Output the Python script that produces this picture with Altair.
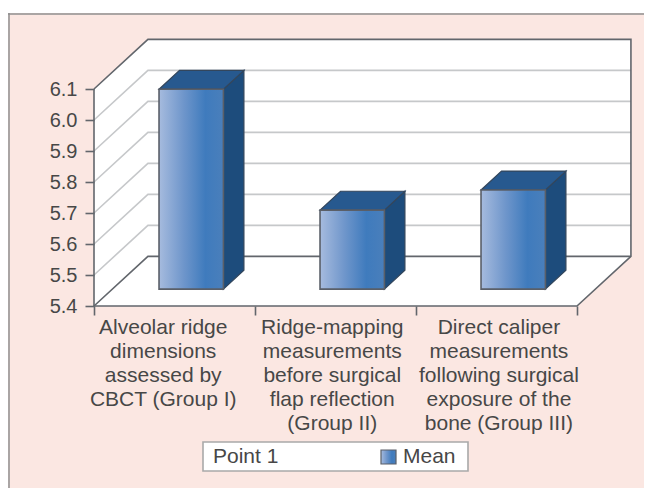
import altair as alt
import pandas as pd

# ---- values ----
categories = [
    "Alveolar ridge\ndimensions\nassessed by\nCBCT (Group I)",
    "Ridge-mapping\nmeasurements\nbefore surgical\nflap reflection\n(Group II)",
    "Direct caliper\nmeasurements\nfollowing surgical\nexposure of the\nbone (Group III)",
]
label_centres = [0.43, 1.48, 2.515]
means = [6.045, 5.655, 5.72]
y_ticks = [5.4, 5.5, 5.6, 5.7, 5.8, 5.9, 6.0, 6.1]
legend_left = "Point 1"
legend_right = "Mean"

# ---- oblique projection of the 3-D box (data units) ----
DX, DY = 0.335, 0.16          # full-depth shift in x (category) and y (value) units
YMIN, YMAX = 5.4, 6.1
N = len(categories)
GAP, BAR = 0.3, 0.4           # within one category
D0, D1 = 0.34, 0.72           # bar's depth range (fraction of the floor)


def shift(x, v, d):
    return x + DX * d, v + DY * d


box = pd.DataFrame({
    "x": [0, DX, N, N + DX],
    "lo": [YMIN, YMIN, YMIN, YMIN + DY],
    "hi": [YMAX, YMAX + DY, YMAX + DY, YMAX + DY],
})

grid_rows = []
for v in y_ticks[1:-1]:
    for x, y in [(0, v), (DX, v + DY), (N + DX, v + DY)]:
        grid_rows.append({"x": x, "y": y, "g": v})
grid = pd.DataFrame(grid_rows)

outline_pts = [
    (0, YMAX), (0, YMIN), (N, YMIN), (N + DX, YMIN + DY), (N + DX, YMAX + DY),
    (DX, YMAX + DY), (0, YMAX),
]
outline = pd.DataFrame([{"x": x, "y": y, "s": i} for i, (x, y) in enumerate(outline_pts)])
back_pts = [(0, YMIN), (DX, YMIN + DY), (N + DX, YMIN + DY)]
floor_back = pd.DataFrame([{"x": x, "y": y, "s": i} for i, (x, y) in enumerate(back_pts)])

front_rows, side_rows, top_rows = [], [], []
for i, v in enumerate(means):
    x0 = i + GAP - 0.01
    x1 = x0 + BAR
    fx0, base = shift(x0, YMIN, D0)
    fx1, _ = shift(x1, YMIN, D0)
    _, top = shift(x0, v, D0)
    dx, dy = DX * (D1 - D0), DY * (D1 - D0)
    front_rows.append({"x": fx0, "x2": fx1, "y": base, "y2": top})
    side_rows += [
        {"b": i, "x": fx1, "lo": base, "hi": top},
        {"b": i, "x": fx1 + dx, "lo": base + dy, "hi": top + dy},
    ]
    top_rows += [
        {"b": i, "x": fx0, "lo": top, "hi": top},
        {"b": i, "x": fx0 + dx, "lo": top, "hi": top + dy},
        {"b": i, "x": fx1, "lo": top, "hi": top + dy},
        {"b": i, "x": fx1 + dx, "lo": top + dy, "hi": top + dy},
    ]
front, side, topf = map(pd.DataFrame, (front_rows, side_rows, top_rows))

label_df = pd.DataFrame({"x": label_centres, "t": categories})

# ---- scales and axes ----
W, H = 538, 265
FONT = "Liberation Sans"
TXT = "#474747"
EDGE = "#5a5f68"
xs = alt.Scale(domain=[0, W / 161], nice=False, zero=False)
ys = alt.Scale(domain=[YMIN, YMIN + H / 310], nice=False, zero=False)
x_axis = alt.Axis(
    values=list(range(N + 1)), labels=False, title=None, domain=False, grid=False, zindex=1,
    ticks=True, tickSize=9, tickColor="#62666c", tickWidth=1.6)
y_axis = alt.Axis(
    values=y_ticks, format=".1f", title=None, domain=False, grid=False, zindex=1,
    tickSize=9, tickColor="#62666c", tickWidth=1.6, labelFont=FONT, labelFontSize=20,
    labelColor=TXT, labelPadding=8)
X = lambda f="x": alt.X(f"{f}:Q", scale=xs, axis=x_axis)
Y = lambda f="y": alt.Y(f"{f}:Q", scale=ys, axis=y_axis)

bar_grad = alt.Gradient(
    gradient="linear", x1=0, x2=1, y1=0, y2=0,
    stops=[
        alt.GradientStop(color="#a6bbde", offset=0),
        alt.GradientStop(color="#6f96cb", offset=0.38),
        alt.GradientStop(color="#3f7bbd", offset=0.72),
        alt.GradientStop(color="#4a7fbb", offset=1),
    ],
)

one = pd.DataFrame({"a": [0]})
panel = alt.Chart(one).mark_rect(fill="#fbe7e2").encode(
    x=alt.value(-86), x2=alt.value(550), y=alt.value(-28), y2=alt.value(447)
)
panel_left = alt.Chart(one).mark_rule(color="#8f8f8f", strokeWidth=1.5).encode(
    x=alt.value(-85), y=alt.value(-28), y2=alt.value(447)
)
panel_top = alt.Chart(one).mark_rule(color="#8f8f8f", strokeWidth=1.5).encode(
    x=alt.value(-86), x2=alt.value(550), y=alt.value(-27)
)
walls = alt.Chart(box).mark_area(fill="#ffffff", line=False).encode(X(), Y("lo"), y2="hi:Q")
grid_l = alt.Chart(grid).mark_line(color="#c6c8ca", strokeWidth=1.6).encode(
    X(), Y(), detail="g:N", order="x:Q"
)
frame = alt.Chart(outline).mark_line(color="#62666c", strokeWidth=1.6).encode(X(), Y(), order="s:Q")
floor_l = alt.Chart(floor_back).mark_line(color="#62666c", strokeWidth=1.6).encode(X(), Y(), order="s:Q")

faces_top = alt.Chart(topf).mark_area(fill="#27598f", stroke="#33465c", strokeWidth=1.2, line=False).encode(
    X(), Y("lo"), y2="hi:Q", detail="b:N"
)
faces_side = alt.Chart(side).mark_area(fill="#1d4c7c", stroke="#33465c", strokeWidth=1.2, line=False).encode(
    X(), Y("lo"), y2="hi:Q", detail="b:N"
)
faces_front = alt.Chart(front).mark_rect(fill=bar_grad, stroke=EDGE, strokeWidth=1.6).encode(
    X(), x2="x2:Q", y=Y(), y2="y2:Q"
)

labels = alt.Chart(label_df).mark_text(
    font=FONT, fontSize=21, color=TXT, lineBreak="\n", lineHeight=24, baseline="top", align="center"
).encode(X(), y=alt.value(276), text="t:N")

leg_box = alt.Chart(one).mark_rect(fill="#ffffff", stroke="#a9a9a9", strokeWidth=1.6).encode(
    x=alt.value(109), x2=alt.value(374), y=alt.value(401), y2=alt.value(430)
)
leg_l = alt.Chart(pd.DataFrame({"t": [legend_left]})).mark_text(
    font=FONT, fontSize=21, color=TXT, align="left", baseline="middle"
).encode(x=alt.value(119), y=alt.value(416), text="t:N")
leg_r = alt.Chart(pd.DataFrame({"t": [legend_right]})).mark_text(
    font=FONT, fontSize=21, color=TXT, align="left", baseline="middle"
).encode(x=alt.value(309), y=alt.value(416), text="t:N")
leg_sw = alt.Chart(one).mark_rect(fill=bar_grad, stroke=EDGE, strokeWidth=1.2).encode(
    x=alt.value(287), x2=alt.value(302), y=alt.value(409), y2=alt.value(423)
)

chart = alt.layer(
    panel, panel_left, panel_top, walls, grid_l, floor_l, frame, faces_side, faces_top, faces_front,
    labels, leg_box, leg_l, leg_r, leg_sw,
).resolve_scale(x="shared", y="shared").properties(
    width=W, height=H, background="#ffffff",
    autosize=alt.AutoSizeParams(type="none"),
    padding={"left": 86, "top": 33, "right": 12, "bottom": 182},
).configure_view(stroke=None)

chart.save("out.html", embed_options={"renderer": "svg", "actions": False})
